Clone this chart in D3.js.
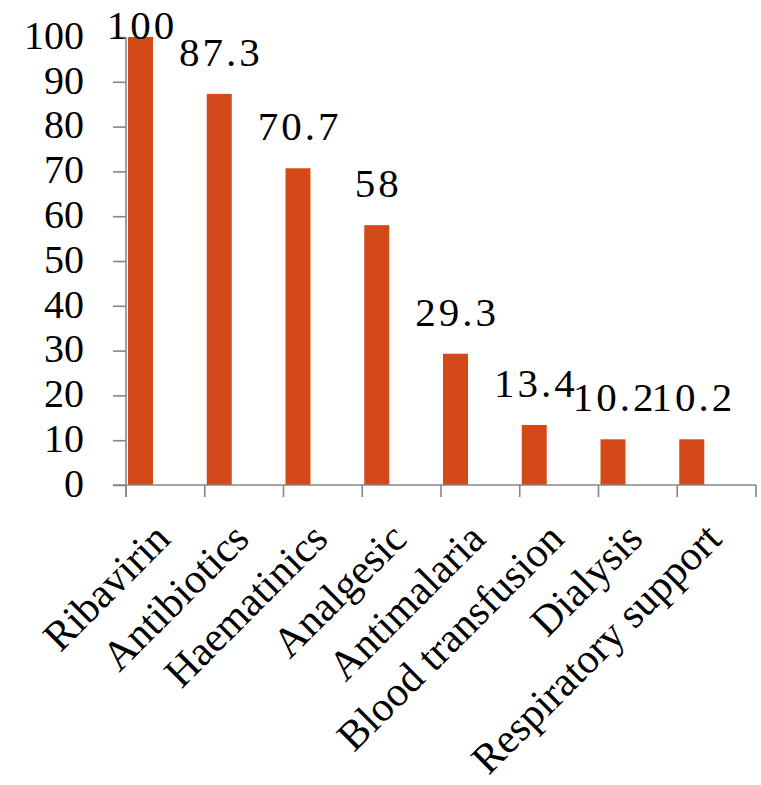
<!DOCTYPE html>
<html><head><meta charset="utf-8">
<script src="https://cdn.jsdelivr.net/npm/d3@7"></script>
<style>html,body{margin:0;padding:0;background:#fff;}svg{display:block;}</style>
</head><body>
<script>
const categories = ["Ribavirin","Antibiotics","Haematinics","Analgesic","Antimalaria","Blood transfusion","Dialysis","Respiratory support"];
const values = [100, 87.3, 70.7, 58, 29.3, 13.4, 10.2, 10.2];
const valueLabels = ["100","87.3","70.7","58","29.3","13.4","10.2","10.2"];
const yTicks = [0,10,20,30,40,50,60,70,80,90,100];

const W = 761, H = 785;
const font = "'Liberation Serif', 'Times New Roman', serif";
const svg = d3.select("body").append("svg").attr("width", W).attr("height", H);

const x = d3.scaleBand().domain(categories).range([126, 756]).padding(0);
const y = d3.scaleLinear().domain([0, 100]).range([485, 37]);
const axisColor = "#868686";

// bars
svg.append("g").selectAll("rect").data(values).join("rect")
  .attr("x", (d, i) => x(categories[i]) + 2)
  .attr("width", 25)
  .attr("y", d => y(d))
  .attr("height", d => y(0) - y(d))
  .attr("fill", "#D34A18");

// y axis
const yAxis = svg.append("g").attr("transform", "translate(126,0)")
  .call(d3.axisLeft(y).tickValues(yTicks).tickSize(13).tickPadding(29).tickFormat(d3.format("d")));
yAxis.select(".domain").attr("d", "M0,37V497").attr("stroke", axisColor).attr("stroke-width", 1.6);
yAxis.selectAll(".tick line").attr("stroke", axisColor).attr("stroke-width", 1.6);
yAxis.selectAll(".tick text").attr("font-family", font).attr("font-size", 40).attr("fill", "#000")
  .attr("dy", "0.28em");

// x axis baseline + ticks at band boundaries
const xg = svg.append("g");
xg.append("line").attr("x1", 113).attr("x2", 756).attr("y1", y(0)).attr("y2", y(0))
  .attr("stroke", axisColor).attr("stroke-width", 1.6);
const bounds = categories.map(c => x(c)).concat([x.range()[1]]);
xg.selectAll("line.tk").data(bounds).join("line").attr("class", "tk")
  .attr("x1", d => d).attr("x2", d => d).attr("y1", y(0)).attr("y2", y(0) + 12)
  .attr("stroke", axisColor).attr("stroke-width", 1.6);

// category labels
xg.selectAll("text").data(categories).join("text")
  .attr("transform", c => `translate(${x(c) + x.bandwidth() / 2 + 7},541) rotate(-45)`)
  .attr("text-anchor", "end")
  .attr("font-family", font).attr("font-size", 42).attr("fill", "#000")
  .text(c => c);

// value labels
svg.append("g").selectAll("text").data(values).join("text")
  .attr("x", (d, i) => x(categories[i]) + 2 + 12.5 + 1.5)
  .attr("y", d => Math.max(y(d) - 28, 39))
  .attr("text-anchor", "middle")
  .attr("letter-spacing", 3)
  .attr("font-family", font).attr("font-size", 41).attr("fill", "#000")
  .text((d, i) => valueLabels[i]);
</script>
</body></html>
